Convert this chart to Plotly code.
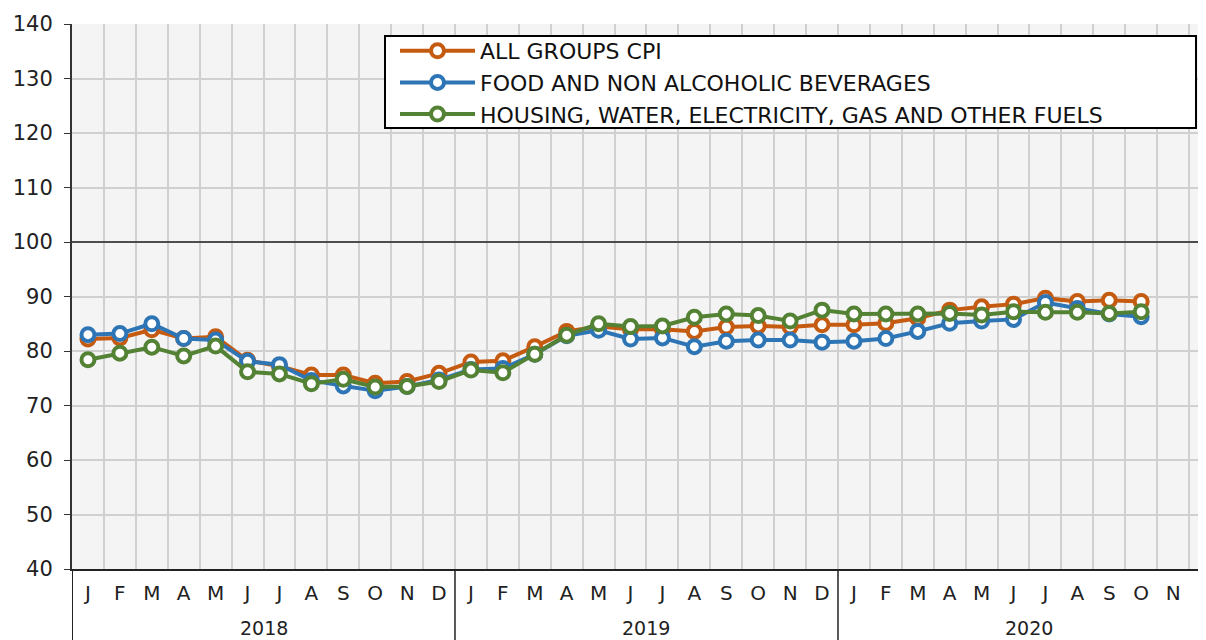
import plotly.graph_objects as go

month_labels = ["J", "F", "M", "A", "M", "J", "J", "A", "S", "O", "N", "D"] * 3
years = ["2018", "2019", "2020"]

all_groups = [82.2, 82.4, 83.9, 82.3, 82.6, 78.3, 77.2, 75.6, 75.6, 74.1, 74.4, 75.9,
              78.0, 78.2, 80.8, 83.6, 84.5, 84.0, 84.0, 83.6, 84.4, 84.6, 84.4, 84.8,
              84.8, 85.1, 86.0, 87.5, 88.1, 88.6, 89.7, 89.1, 89.3, 89.1]
food = [83.0, 83.2, 85.0, 82.3, 82.0, 78.1, 77.5, 74.6, 73.6, 72.7, 73.5, 74.7,
        76.6, 76.8, 79.4, 82.8, 83.8, 82.2, 82.4, 80.8, 81.8, 82.0, 82.0, 81.6,
        81.8, 82.3, 83.6, 85.1, 85.5, 85.8, 88.9, 87.8, 86.8, 86.3]
housing = [78.4, 79.6, 80.7, 79.1, 80.9, 76.2, 75.8, 74.0, 74.8, 73.4, 73.5, 74.4,
           76.5, 76.0, 79.4, 82.9, 85.0, 84.5, 84.6, 86.2, 86.8, 86.5, 85.5, 87.5,
           86.8, 86.8, 86.8, 86.9, 86.6, 87.2, 87.1, 87.1, 86.9, 87.2]

series = [
    ("ALL GROUPS CPI", all_groups, "#c55a11"),
    ("FOOD AND NON ALCOHOLIC BEVERAGES", food, "#2e75b6"),
    ("HOUSING, WATER, ELECTRICITY, GAS AND OTHER FUELS", housing, "#548235"),
]

FONT = "DejaVu Sans, Liberation Sans, Arial, sans-serif"

fig = go.Figure()
for name, vals, col in series:
    fig.add_trace(go.Scatter(
        x=list(range(len(vals))), y=vals, name=name, mode="lines+markers",
        line=dict(color=col, width=4),
        marker=dict(symbol="circle", size=13, color="white",
                    line=dict(color=col, width=4)),
    ))

# page body has an 8px offset; plot area targets screen x 72..1198, y 24..569
PW = 1126.0
n = len(month_labels)
fig.update_layout(
    width=1190, height=632,
    margin=dict(l=64, r=0, t=16, b=71, autoexpand=False),
    paper_bgcolor="white", plot_bgcolor="#f4f4f4",
    font=dict(family=FONT, size=20, color="#222"),
    showlegend=True,
    legend=dict(x=(395 - 72) / PW, y=(569 - 30) / 545, xanchor="left", yanchor="top",
                bgcolor="rgba(0,0,0,0)", borderwidth=0,
                font=dict(family=FONT, size=22, color="#111"), itemwidth=75),
    xaxis=dict(range=[-0.5, 34.78], tickmode="array",
               tickvals=list(range(n)), ticktext=month_labels,
               showgrid=False, zeroline=False, ticks="outside", ticklen=5,
               tickcolor="rgba(0,0,0,0)", automargin=False,
               minor=dict(tickmode="array", tickvals=[i + 0.5 for i in range(-1, n)],
                          showgrid=True, gridcolor="#d0d0d0", gridwidth=1.5, ticks=""),
               showline=True, linecolor="#222", linewidth=1.5),
    yaxis=dict(range=[40, 140], dtick=10, showgrid=True, gridcolor="#d0d0d0",
               gridwidth=1.5, zeroline=False, ticks="outside", ticklen=6,
               tickcolor="#333", showline=True, linecolor="#333", linewidth=2,
               ticklabelstandoff=7, automargin=False,
               tickfont=dict(family=FONT, size=21, color="#222")),
)

# legend box
fig.add_shape(type="rect", xref="paper", yref="paper",
              x0=(385 - 72) / PW, x1=(1196 - 72) / PW,
              y0=(569 - 128) / 545, y1=(569 - 36) / 545,
              fillcolor="white", line=dict(color="black", width=2), layer="above")
# dark 100 line
fig.add_shape(type="line", xref="paper", yref="y", x0=0, x1=1, y0=100, y1=100,
              line=dict(color="#222", width=1.5))
# left axis extension and year dividers below axis
for xv in [-0.5, 11.5, 23.5]:
    fig.add_shape(type="line", xref="x", yref="paper", x0=xv, x1=xv, y0=0, y1=-0.14,
                  line=dict(color="#222", width=2 if xv < 0 else 1.5))
for i, yr in enumerate(years):
    fig.add_annotation(x=5.5 + 12 * i, y=(569 - 628) / 545, xref="x", yref="paper", text=yr,
                       showarrow=False, font=dict(family=FONT, size=19, color="#222"),
                       yanchor="middle")

fig.write_html("out.html")
